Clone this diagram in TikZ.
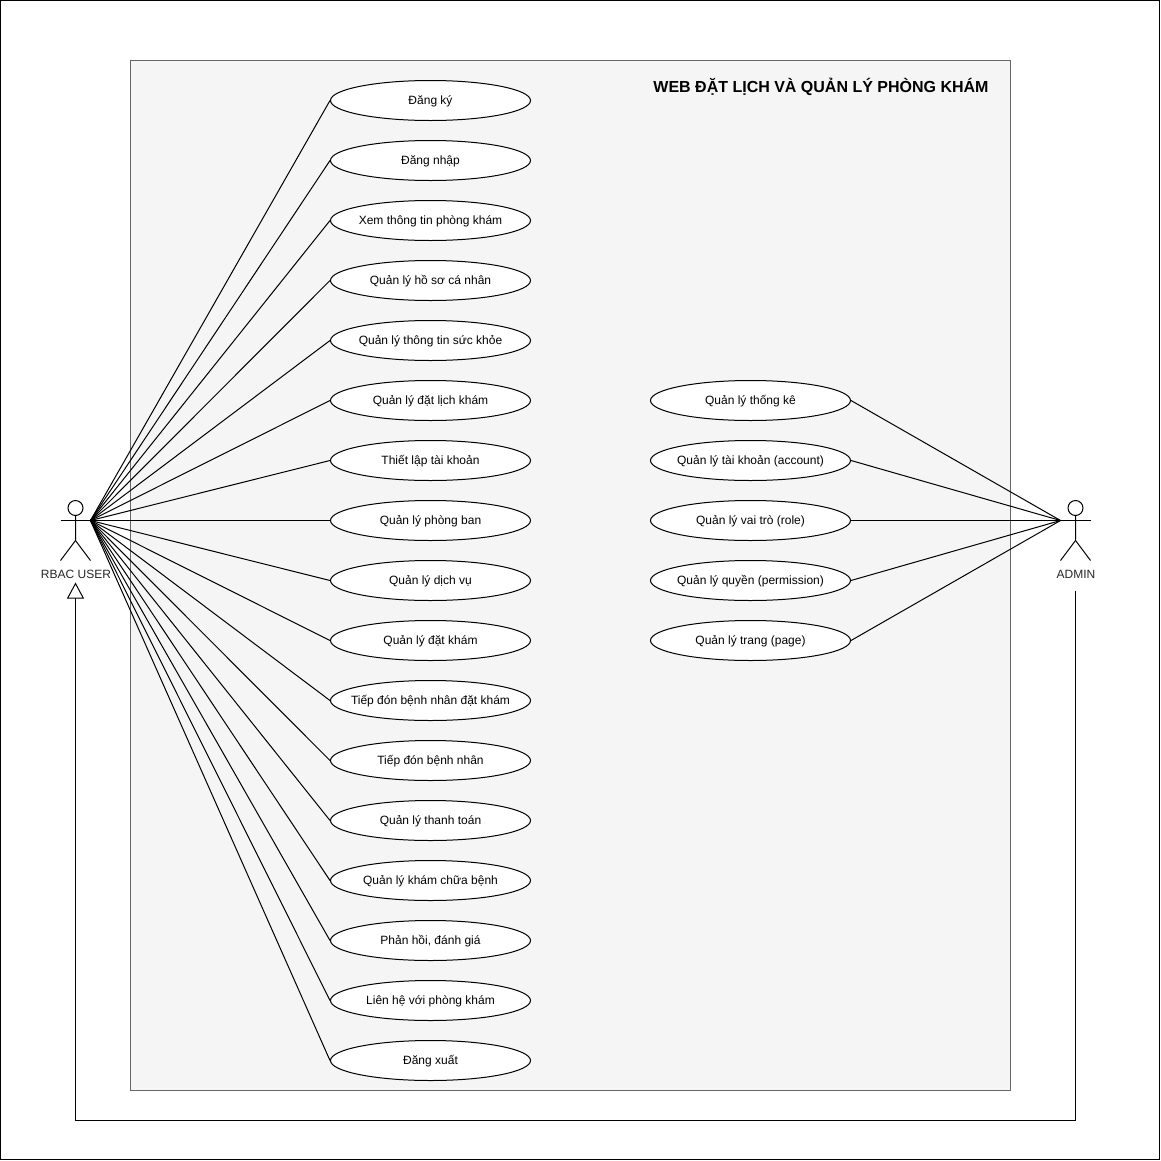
\documentclass[tikz,border=0pt]{standalone}
\usepackage{fontspec}
\setmainfont{Liberation Sans}
\usetikzlibrary{shapes.geometric,positioning,arrows.meta}
\colorlet{panelgray}{black!4}
\tikzstyle{usecase}=[draw,ellipse,fill=white,inner xsep=-30pt,inner ysep=0pt,minimum width=150pt,minimum height=30pt,
  font=\fontsize{9pt}{11pt}\selectfont,text height=8.5pt,text depth=2pt]
\tikzstyle{actor}=[inner sep=0pt,outer sep=0pt,minimum width=22.5pt,minimum height=45pt]
\tikzstyle{actorname}=[inner sep=0pt,outer sep=0pt,font=\fontsize{9pt}{11pt}\selectfont,text=black!85]
\tikzstyle{generalize}=[-{Triangle[open,fill=white,length=12pt,width=12.75pt]}]
\newcommand{\stickman}[1]{
  \draw (#1.north) ++(0,7.5) circle (5.625pt);
  \draw (#1.north) ++(0,15) -- ++(0,25) -- (#1.south west);
  \draw (#1.north) ++(0,40) -- (#1.south east);
  \draw (#1.north west) ++(0,20) -- ++(30,0);
}

\begin{document}
\begin{tikzpicture}[x=.75pt, y=-.75pt, on grid, node distance=45pt, line width=.75pt]
  \useasboundingbox (0,0) rectangle (1161,1161);
  \draw (.5,.5) rectangle (1159.5,1159.5);

  \begin{scope}[shift={(.5,.5)}]
  % system boundary
  \node[draw=black!60,fill=panelgray,inner sep=0pt,minimum width=660pt,minimum height=772.5pt] (system) at (570,575) {};
  \node[font=\bfseries\fontsize{12pt}{14pt}\selectfont] (title) at (820.5,86) {WEB ĐẶT LỊCH VÀ QUẢN LÝ PHÒNG KHÁM};

  % left column
  \node[usecase] (u1) at (430,100) {Đăng ký};
  \node[usecase, below=of u1] (u2) {Đăng nhập};
  \node[usecase, below=of u2] (u3) {Xem thông tin phòng khám};
  \node[usecase, below=of u3] (u4) {Quản lý hồ sơ cá nhân};
  \node[usecase, below=of u4] (u5) {Quản lý thông tin sức khỏe};
  \node[usecase, below=of u5] (u6) {Quản lý đặt lịch khám};
  \node[usecase, below=of u6] (u7) {Thiết lập tài khoản};
  \node[usecase, below=of u7] (u8) {Quản lý phòng ban};
  \node[usecase, below=of u8] (u9) {Quản lý dịch vụ};
  \node[usecase, below=of u9] (u10) {Quản lý đặt khám};
  \node[usecase, below=of u10] (u11) {Tiếp đón bệnh nhân đặt khám};
  \node[usecase, below=of u11] (u12) {Tiếp đón bệnh nhân};
  \node[usecase, below=of u12] (u13) {Quản lý thanh toán};
  \node[usecase, below=of u13] (u14) {Quản lý khám chữa bệnh};
  \node[usecase, below=of u14] (u15) {Phản hồi, đánh giá};
  \node[usecase, below=of u15] (u16) {Liên hệ với phòng khám};
  \node[usecase, below=of u16] (u17) {Đăng xuất};

  % right column
  \node[usecase] (a1) at (750,400) {Quản lý thống kê};
  \node[usecase, below=of a1] (a2) {Quản lý tài khoản (account)};
  \node[usecase, below=of a2] (a3) {Quản lý vai trò (role)};
  \node[usecase, below=of a3] (a4) {Quản lý quyền (permission)};
  \node[usecase, below=of a4] (a5) {Quản lý trang (page)};

  % actors
  \node[actor] (rbac) at (75,530) {};
  \node[actor] (admin) at (1075,530) {};
  \stickman{rbac}
  \stickman{admin}
  \node[actorname] (rbacname) at (75.5,573.5) {RBAC USER};
  \node[actorname] (adminname) at (1075.5,573.5) {ADMIN};
  \coordinate (rbachand) at (90,520);
  \coordinate (adminhand) at (1060,520);
  \coordinate (rbacfoot) at (75,582);
  \coordinate (adminfoot) at (1075,590);

  \foreach \i in {1,...,17}
    \draw (rbachand) -- (u\i.west);
  \foreach \i in {1,...,5}
    \draw (adminhand) -- (a\i.east);

  \draw[generalize] (adminfoot) -- ++(0,530) -| (rbacfoot);
  \end{scope}
\end{tikzpicture}
\end{document}
